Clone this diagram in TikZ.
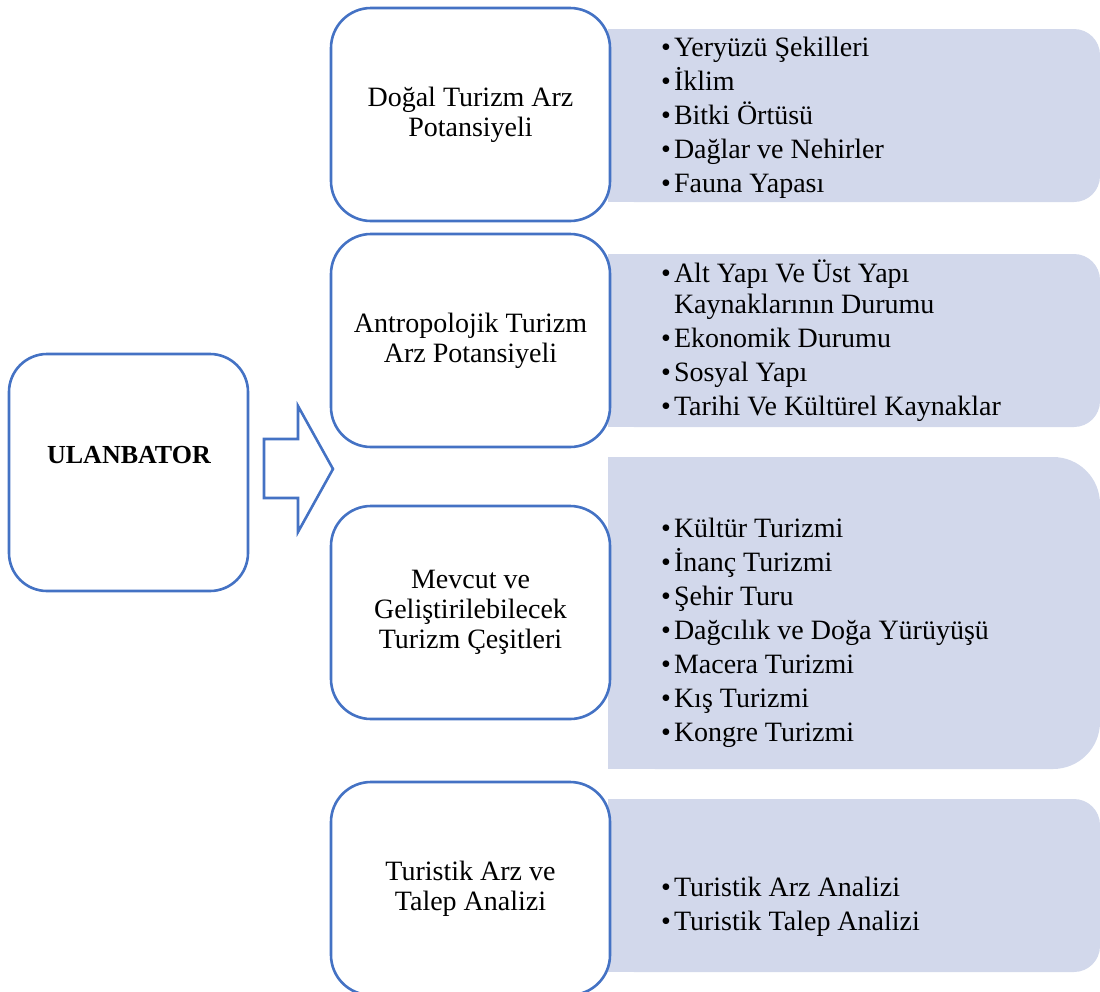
\documentclass[tikz,border=0pt]{standalone}
\usepackage{fontspec}
\setmainfont{Liberation Serif}
\definecolor{boxblue}{HTML}{4472C4}
\definecolor{panelgrey}{HTML}{D2D8EB}

\begin{document}
\begin{tikzpicture}[x=1pt,y=-1pt]
				\tikzstyle{whitebox}=[draw=boxblue,line width=2.6pt,fill=white,rounded corners=40pt,
				minimum width=279pt,minimum height=213pt,align=center,inner sep=0pt,
				font=\fontsize{28}{30}\selectfont]
				\tikzstyle{panel}=[fill=panelgrey,minimum width=492pt,minimum height=173pt,
				inner sep=0pt,rounded corners=26pt]
				\tikzstyle{itemlist}=[anchor=west,inner sep=0pt,font=\fontsize{28}{34}\selectfont]
				\clip (0,0) rectangle (1100,991);
				% grey panels, square on the left
				\node[panel] (p1) at (854,115.5) {};
				\node[panel] (p2) at (854,340.5) {};
				\node[panel,minimum height=312pt,rounded corners=47pt] (p3) at (854,613) {};
				\node[panel] (p4) at (854,885.5) {};
				\foreach \p in {p1,p2,p3,p4}
					\fill[panelgrey] (\p.north west) rectangle (\p.south);
				% main box and arrow
				\node[whitebox,minimum width=239pt,minimum height=237pt,rounded corners=38pt] (ulan) at (128.5,472.5) {};
				\node[font=\fontsize{26}{30}\selectfont\bfseries] (ulantext) at (129,455) {ULANBATOR};
				\draw[boxblue,line width=2.6pt,fill=white] (264,439) -- (298,439) -- (298,406) -- (333,469)
					-- (298,532) -- (298,498) -- (264,498) -- cycle;
				% headings
				\node[whitebox] (dogal) at (470.5,114.5) {Doğal Turizm Arz\\Potansiyeli};
				\node[whitebox] (antro) at (470.5,340.5) {Antropolojik Turizm\\Arz Potansiyeli};
				\node[whitebox] (mevcut) at (470.5,612.5) {Mevcut ve\\Geliştirilebilecek\\Turizm Çeşitleri};
				\node[whitebox] (talep) at (470.5,888.5) {Turistik Arz ve\\Talep Analizi};
				% lists
				\node[itemlist] (l1) at (661,118) {\begin{tabular}{@{}l@{\hspace{3pt}}l@{}}
					\textbullet & Yeryüzü Şekilleri\\
					\textbullet & İklim\\
					\textbullet & Bitki Örtüsü\\
					\textbullet & Dağlar ve Nehirler\\
					\textbullet & Fauna Yapası
				\end{tabular}};
				\node[itemlist] (l2) at (661,342.5) {\begin{tabular}{@{}l@{\hspace{3pt}}l@{}}
					\textbullet & Alt Yapı Ve Üst Yapı\\[-3pt]
					& Kaynaklarının Durumu\\
					\textbullet & Ekonomik Durumu\\
					\textbullet & Sosyal Yapı\\
					\textbullet & Tarihi Ve Kültürel Kaynaklar
				\end{tabular}};
				\node[itemlist] (l3) at (661,632.5) {\begin{tabular}{@{}l@{\hspace{3pt}}l@{}}
					\textbullet & Kültür Turizmi\\
					\textbullet & İnanç Turizmi\\
					\textbullet & Şehir Turu\\
					\textbullet & Dağcılık ve Doğa Yürüyüşü\\
					\textbullet & Macera Turizmi\\
					\textbullet & Kış Turizmi\\
					\textbullet & Kongre Turizmi
				\end{tabular}};
				\node[itemlist] (l4) at (661,906.5) {\begin{tabular}{@{}l@{\hspace{3pt}}l@{}}
					\textbullet & Turistik Arz Analizi\\
					\textbullet & Turistik Talep Analizi
				\end{tabular}};
\end{tikzpicture}
\end{document}
